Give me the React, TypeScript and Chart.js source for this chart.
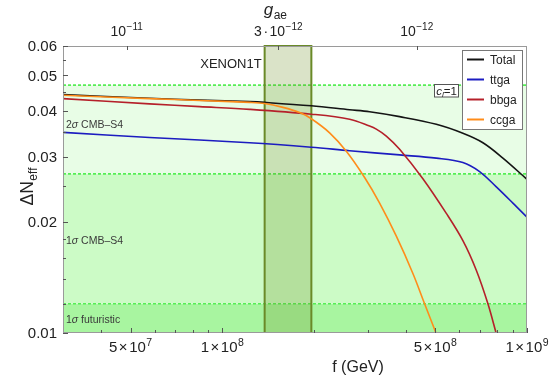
import React, { useEffect, useRef } from "react";
import { Chart, registerables } from "chart.js";
Chart.register(...registerables);

// ---------- data ----------
const totalF = [3e7, 5.77e7, 8.42e7, 1.229e8, 1.377e8, 1.959e8, 2.617e8, 3.043e8, 3.819e8, 5.039e8, 6.16e8, 7.167e8, 8.335e8, 1e9];
const totalV = [0.0443, 0.0433, 0.0428, 0.0424, 0.0422, 0.0413, 0.0403, 0.0398, 0.0386, 0.0368, 0.0348, 0.0328, 0.0298, 0.0261];

const ttgaF = [3e7, 5.77e7, 1.229e8, 1.959e8, 2.617e8, 3.819e8, 5.039e8, 6.16e8, 6.99e8, 7.93e8, 8.99e8, 1e9];
const ttgaV = [0.035, 0.0339, 0.0328, 0.0319, 0.0312, 0.0304, 0.0298, 0.029, 0.0274, 0.0249, 0.0225, 0.0206];

const bbgaF = [3e7, 5.77e7, 8.42e7, 1.229e8, 1.959e8, 2.617e8, 3.043e8, 3.202e8, 3.453e8, 3.819e8, 4.553e8, 5.435e8, 6.16e8, 6.817e8, 7.443e8, 7.93e8];
const bbgaV = [0.0432, 0.0418, 0.0411, 0.0404, 0.0392, 0.038, 0.0364, 0.0357, 0.0342, 0.0315, 0.0262, 0.0211, 0.0178, 0.0148, 0.012, 0.00995];

const ccgaF = [3e7, 5.77e7, 8.42e7, 1.229e8, 1.377e8, 1.581e8, 1.794e8, 1.959e8, 2.25e8, 2.553e8, 2.931e8, 3.283e8, 3.725e8, 4.222e8, 4.612e8, 5.039e8];
const ccgaV = [0.0441, 0.0432, 0.0427, 0.0422, 0.0419, 0.0409, 0.0396, 0.0381, 0.0349, 0.0311, 0.0264, 0.0225, 0.0183, 0.0145, 0.012, 0.00995];

const seriesLabels = ["Total", "ttga", "bbga", "ccga"];

// bands: boundaries of the sensitivity regions (ΔN_eff)
const bandEdges = [0.01, 0.012, 0.027, 0.047];
const bandNames = ["1σ futuristic", "1σ CMB–S4", "2σ CMB–S4"];
const bandLabelAt = [0.0109, 0.0179, 0.0369];

// XENON1T range in f (GeV)
const xenonRange = [1.377e8, 1.96e8];

// axes
const xMin = 3e7, xMax = 1e9;
const yMin = 0.01, yMax = 0.06;
const xLabelTicks = [5e7, 1e8, 5e8, 1e9];
const xLabelText = ["5×10^7", "1×10^8", "5×10^8", "1×10^9"];
const xMinorTicks = [4e7, 6e7, 7e7, 8e7, 9e7, 2e8, 3e8, 4e8, 6e8, 7e8, 8e8, 9e8];
const yLabelTicks = [0.01, 0.02, 0.03, 0.04, 0.05, 0.06];
const yLabelText = ["0.01", "0.02", "0.03", "0.04", "0.05", "0.06"];
const yMinorTicks = [0.012, 0.014, 0.016, 0.018, 0.025, 0.035, 0.045, 0.055];
const gMin = 4.166e-13, gMax = 1.658e-11;
const gTicks = [1e-11, 3e-12, 1e-12];
const gTickText = ["10^−11", "3·10^−12", "10^−12"];

// ---------- styles ----------
const FONT = '"Liberation Sans", Arial, sans-serif';
const colors = ["#141414", "#1c1cc0", "#b5202a", "#ff8c1a"];
const bandFill = ["#a8f5a0", "#ccfbc6", "#e8fde6"];

type Seg = { t: string; size: number; dy?: number; italic?: boolean; pre?: number };
function rich(ctx: CanvasRenderingContext2D, segs: Seg[], x: number, y: number, align: "left" | "center" | "right", color = "#222") {
  const f = (s: Seg) => `${s.italic ? "italic " : ""}${s.size}px ${FONT}`;
  let w = 0;
  const ws = segs.map((s) => {
    ctx.font = f(s);
    const m = ctx.measureText(s.t).width + (s.pre || 0);
    w += m;
    return m;
  });
  let cx = align === "left" ? x : align === "center" ? x - w / 2 : x - w;
  ctx.fillStyle = color;
  ctx.textAlign = "left";
  ctx.textBaseline = "alphabetic";
  segs.forEach((s, i) => {
    ctx.font = f(s);
    ctx.fillText(s.t, cx + (s.pre || 0), y + (s.dy || 0));
    cx += ws[i];
  });
}

function powSegs(label: string, size: number, supSize: number): Seg[] {
  const [base, exp] = label.split("^");
  const segs: Seg[] = [];
  const m = base.match(/^(.*?)([×·])(10)$/);
  if (m) {
    segs.push({ t: m[1], size });
    segs.push({ t: m[2], size, pre: 1.5 });
    segs.push({ t: m[3], size, pre: 1.5 });
  } else segs.push({ t: base, size });
  segs.push({ t: exp, size: supSize, dy: -6, pre: 0.5 });
  return segs;
}

const backPlugin = {
  id: "back",
  beforeDatasetsDraw(chart: any) {
    const { ctx, chartArea: a, scales } = chart;
    const x = scales.x, y = scales.y;
    ctx.save();
    for (let i = 0; i < bandEdges.length - 1; i++) {
      const y1 = y.getPixelForValue(bandEdges[i]);
      const y2 = y.getPixelForValue(bandEdges[i + 1]);
      ctx.fillStyle = bandFill[i];
      ctx.fillRect(a.left, y2, a.right - a.left, y1 - y2);
    }
    ctx.strokeStyle = "#55ee55";
    ctx.lineWidth = 1.6;
    ctx.setLineDash([3, 2]);
    for (let i = 1; i < bandEdges.length; i++) {
      const yy = y.getPixelForValue(bandEdges[i]);
      ctx.beginPath();
      ctx.moveTo(a.left, yy);
      ctx.lineTo(a.right, yy);
      ctx.stroke();
    }
    ctx.setLineDash([]);
    for (let i = 0; i < bandNames.length; i++) {
      const yy = y.getPixelForValue(bandLabelAt[i]) + 3.8;
      const [n, rest] = [bandNames[i].slice(0, 1), bandNames[i].slice(2)];
      rich(ctx, [{ t: n, size: 10.5 }, { t: "σ", size: 10.5, italic: true }, { t: rest, size: 10.5 }], a.left + 3, yy, "left", "#3a3a3a");
    }
    const xl = x.getPixelForValue(xenonRange[0]);
    const xr = x.getPixelForValue(xenonRange[1]);
    ctx.fillStyle = "rgba(107,142,35,0.25)";
    ctx.fillRect(xl, a.top, xr - xl, a.bottom - a.top);
    ctx.strokeStyle = "#6a8a28";
    ctx.lineWidth = 2;
    ctx.beginPath();
    ctx.moveTo(xl, a.bottom); ctx.lineTo(xl, a.top); ctx.lineTo(xr, a.top); ctx.lineTo(xr, a.bottom);
    ctx.stroke();
    ctx.font = `13px ${FONT}`;
    ctx.fillStyle = "#222";
    ctx.textAlign = "right";
    ctx.textBaseline = "alphabetic";
    ctx.fillText("XENON1T", xl - 3, a.top + 22);
    ctx.restore();
  },
};

const frontPlugin = {
  id: "front",
  afterDraw(chart: any) {
    const { ctx, chartArea: a, scales } = chart;
    const x = scales.x, y = scales.y, g = scales.g;
    ctx.save();
    ctx.strokeStyle = "#9a9a9a";
    ctx.lineWidth = 1;
    ctx.strokeRect(a.left + 0.5, a.top + 0.5, a.right - a.left - 1, a.bottom - a.top - 1);
    ctx.strokeStyle = "#555";
    ctx.beginPath();
    xLabelTicks.forEach((v) => { const p = Math.round(x.getPixelForValue(v)) + 0.5; ctx.moveTo(p, a.bottom); ctx.lineTo(p, a.bottom - 5); });
    xMinorTicks.forEach((v) => { const p = Math.round(x.getPixelForValue(v)) + 0.5; ctx.moveTo(p, a.bottom); ctx.lineTo(p, a.bottom - 3); });
    yLabelTicks.forEach((v) => { const p = Math.round(y.getPixelForValue(v)) + 0.5; ctx.moveTo(a.left, p); ctx.lineTo(a.left + 5, p); });
    yMinorTicks.forEach((v) => { const p = Math.round(y.getPixelForValue(v)) + 0.5; ctx.moveTo(a.left, p); ctx.lineTo(a.left + 3, p); });
    gTicks.forEach((v) => { const p = Math.round(g.getPixelForValue(v)) + 0.5; ctx.moveTo(p, a.top); ctx.lineTo(p, a.top + 4); });
    ctx.stroke();
    yLabelTicks.forEach((v, i) => {
      rich(ctx, [{ t: yLabelText[i], size: 15 }], a.left - 6, y.getPixelForValue(v) + 5.3, "right");
    });
    xLabelTicks.forEach((v, i) => {
      rich(ctx, powSegs(xLabelText[i], 15, 10.5), x.getPixelForValue(v), a.bottom + 19, "center");
    });
    gTicks.forEach((v, i) => {
      rich(ctx, powSegs(gTickText[i], 14, 10), g.getPixelForValue(v), a.top - 10.5, "center");
    });
    rich(ctx, [{ t: "f (GeV)", size: 16 }], (a.left + a.right) / 2 + 63, 372, "center");
    rich(ctx, [{ t: "g", size: 17, italic: true }, { t: "ae", size: 12, dy: 3.5, pre: 0.5 }], g.getPixelForValue(3e-12) - 3, 15, "center");
    ctx.save();
    ctx.translate(33, (a.top + a.bottom) / 2 - 3);
    ctx.rotate(-Math.PI / 2);
    rich(ctx, [{ t: "ΔN", size: 17.5 }, { t: "eff", size: 12, dy: 3.5, pre: 0.5 }], 0, 0, "center");
    ctx.restore();
    ctx.fillStyle = "#fff";
    ctx.fillRect(434.5, 84.5, 24, 12.5);
    ctx.strokeStyle = "#555";
    ctx.strokeRect(434.5, 84.5, 24, 12.5);
    rich(ctx, [{ t: "c", size: 11.5, italic: true }, { t: "l", size: 8, italic: true, dy: 2 }, { t: "=1", size: 11.5 }], 446.5, 94.5, "center");
    const lx = 462, ly = 50, lw = 60, lh = 79;
    ctx.fillStyle = "#fff";
    ctx.fillRect(lx, ly, lw, lh);
    ctx.strokeStyle = "#777";
    ctx.strokeRect(lx + 0.5, ly + 0.5, lw, lh);
    chart.data.datasets.forEach((ds: any, i: number) => {
      const yy = ly + 9.5 + i * 20;
      ctx.strokeStyle = ds.borderColor;
      ctx.lineWidth = 2;
      ctx.beginPath();
      ctx.moveTo(lx + 5, yy);
      ctx.lineTo(lx + 22, yy);
      ctx.stroke();
      rich(ctx, [{ t: ds.label, size: 12 }], lx + 28, yy + 4.3, "left", "#222");
    });
    ctx.restore();
  },
};

function mk(fs: number[], vs: number[]) {
  return fs.map((f, i) => ({ x: f, y: vs[i] }));
}

export default function App() {
  const ref = useRef<HTMLCanvasElement>(null);
  useEffect(() => {
    document.body.style.margin = "0";
    const all = [mk(totalF, totalV), mk(ttgaF, ttgaV), mk(bbgaF, bbgaV), mk(ccgaF, ccgaV)];
    const order = [3, 2, 1, 0];
    const chart = new Chart(ref.current!, {
      type: "line",
      data: {
        datasets: all.map((d, i) => ({
          label: seriesLabels[i],
          data: d,
          borderColor: colors[i],
          backgroundColor: colors[i],
          borderWidth: 1.6,
          pointRadius: 0,
          fill: false,
          tension: 0.35,
          order: order[i],
        })),
      },
      options: {
        responsive: false,
        animation: false,
        devicePixelRatio: 1,
        layout: { padding: { left: 63, right: 22, top: 46, bottom: 46 } },
        plugins: { legend: { display: false }, tooltip: { enabled: false } },
        events: [],
        scales: {
          x: { type: "logarithmic", min: xMin, max: xMax, display: false },
          y: { type: "logarithmic", min: yMin, max: yMax, display: false },
          g: { type: "logarithmic", axis: "x", position: "top", min: gMin, max: gMax, reverse: true, display: false },
        },
      } as any,
      plugins: [backPlugin, frontPlugin],
    });
    return () => chart.destroy();
  }, []);
  return (
    <div style={{ position: "absolute", left: 0, top: 0, width: 549, height: 379, background: "#fff" }}>
      <canvas ref={ref} width={549} height={379} style={{ width: 549, height: 379 }} />
    </div>
  );
}
